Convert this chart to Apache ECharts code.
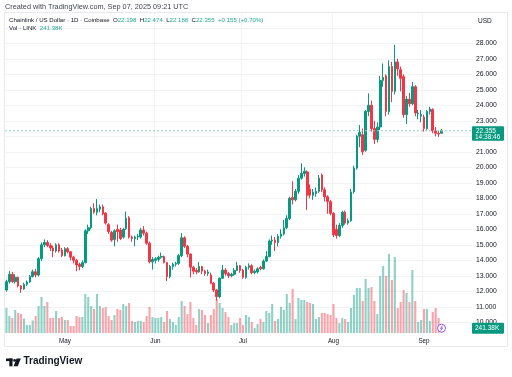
<!DOCTYPE html>
<html><head><meta charset="utf-8">
<script src="https://cdn.jsdelivr.net/npm/echarts@6/dist/echarts.min.js"></script>
<style>html,body{margin:0;padding:0;background:#fff}#c{width:512px;height:377px}</style>
</head><body><div id="c"></div>
<script>
// ---- data (LINK/USD daily, Apr 11 – Sep 7 2025) ----
const openP = [12.08,12.62,13.1,12.62,12.9,12.35,12.15,12.45,12.6,12.95,
13.26,13.05,14.1,15.0,15.15,14.95,14.8,14.6,15.0,14.66,
14.3,14.75,14.55,14.2,14.0,13.75,13.6,13.85,15.9,16.1,
17.35,17.1,17.3,17.45,17.05,16.3,15.8,15.35,16.0,15.95,
15.5,16.05,16.75,15.5,15.4,15.5,15.5,15.95,15.75,15.1,
13.9,14.0,14.05,14.2,14.25,13.85,12.95,13.6,13.75,13.8,
14.3,15.45,14.9,14.4,13.55,13.35,13.25,13.6,13.3,13.15,
13.05,12.52,12.08,11.65,12.84,13.37,13.15,13.0,13.1,13.35,
13.65,13.37,12.9,13.55,13.65,13.2,13.25,13.55,13.45,13.95,
14.24,15.25,15.3,15.15,15.55,15.7,16.1,16.7,18.05,17.9,
18.45,19.3,19.6,19.7,18.6,18.2,18.3,18.45,19.5,18.55,
18.1,17.78,17.03,16.0,15.6,16.25,17.1,16.4,16.55,18.43,
19.95,22.0,22.1,21.1,23.6,24.0,22.5,21.8,22.6,25.6,
25.9,23.6,26.5,24.9,26.8,26.3,25.85,23.4,24.4,24.1,
25.2,23.45,23.3,23.24,22.5,23.6,23.74,22.35,22.2,22.198];
const closeP = [12.62,13.1,12.62,12.9,12.35,12.15,12.45,12.6,12.95,13.26,
13.05,14.1,15.0,15.15,14.95,14.8,14.6,15.0,14.6,14.3,
14.75,14.55,14.2,14.0,13.7,13.6,13.85,15.9,16.1,17.35,
17.1,17.35,17.45,17.0,16.4,15.85,15.3,15.9,15.85,15.4,
16.0,16.7,15.5,15.4,15.5,15.55,15.95,15.75,15.1,13.9,
14.05,14.1,14.2,14.25,13.85,12.95,13.6,13.75,13.8,14.3,
15.45,14.9,14.4,13.55,13.3,13.25,13.6,13.3,13.15,13.25,
12.52,12.08,11.65,12.84,13.37,13.15,13.0,13.1,13.35,13.65,
13.35,12.9,13.55,13.65,13.2,13.3,13.45,13.45,13.95,14.24,
15.25,15.3,15.15,15.55,15.7,16.1,16.7,18.0,17.9,18.45,
19.3,19.6,19.75,18.2,18.2,18.4,18.45,19.3,18.55,18.1,
17.78,17.03,15.65,15.6,16.25,17.1,16.4,16.55,18.4,19.95,
22.0,22.25,21.0,23.6,24.0,22.5,21.8,22.6,25.6,25.8,
23.6,26.5,24.9,26.8,26.35,25.74,23.4,24.4,24.1,25.2,
23.5,23.5,23.4,22.5,23.6,23.76,22.36,22.2,22.15,22.355];
const highP = [12.75,13.3,13.25,13.1,12.95,12.4,12.55,12.7,13.05,13.4,
13.45,14.2,15.15,15.35,15.3,15.1,14.95,15.1,15.1,14.8,
14.85,14.85,14.6,14.3,14.1,13.85,14.0,16.0,16.3,17.45,
17.68,17.95,17.6,17.6,17.1,16.4,15.9,16.0,16.3,16.1,
16.1,17.14,16.85,15.6,15.6,15.7,16.1,16.2,15.85,15.2,
14.2,14.2,14.3,14.5,14.3,13.9,13.7,13.85,13.9,14.4,
15.75,15.55,15.0,14.45,13.65,13.5,13.9,13.65,13.4,13.4,
13.2,12.6,12.15,12.9,13.7,13.5,13.25,13.2,13.5,13.9,
13.7,13.45,13.65,13.8,13.75,13.4,13.55,13.65,14.05,14.6,
15.35,15.6,15.5,15.7,16.0,16.6,16.9,18.1,19.1,18.6,
19.5,20.26,20.0,19.8,18.9,18.6,18.7,19.5,19.6,18.7,
18.2,17.9,17.1,16.3,16.4,17.2,17.2,16.7,18.6,20.1,
22.1,22.73,22.5,23.7,24.77,24.3,23.0,22.9,25.9,26.7,
26.0,26.9,26.8,27.9,27.0,26.5,26.0,24.6,24.8,25.5,
25.3,23.7,23.7,23.4,23.7,23.9,23.8,22.6,22.35,22.474];
const lowP = [11.98,12.5,12.55,12.5,12.25,11.9,12.1,12.35,12.55,12.9,
12.9,12.95,13.95,14.85,14.85,14.6,14.2,14.5,14.5,14.2,
14.25,14.45,14.0,13.8,13.3,13.35,13.5,13.8,15.7,16.0,
17.0,16.9,17.1,16.9,16.3,15.7,15.2,14.9,15.2,15.3,
15.4,15.95,15.4,15.2,14.9,15.3,15.4,15.6,15.0,13.8,
13.4,13.8,13.9,14.1,13.8,12.66,12.85,13.4,13.6,13.7,
14.2,14.8,14.2,12.9,13.1,13.1,13.2,13.1,13.0,13.0,
12.45,11.95,11.4,11.55,12.8,13.0,12.85,12.9,13.0,13.3,
13.2,12.8,12.8,13.4,13.1,13.1,13.15,13.35,13.4,13.9,
14.2,15.0,14.6,14.9,15.4,15.6,16.0,16.6,17.6,17.8,
18.3,19.2,19.4,17.25,18.0,17.9,18.1,18.35,18.4,17.8,
17.0,16.9,15.5,15.4,15.5,16.1,16.3,16.3,16.5,18.3,
19.85,21.3,20.8,21.0,23.3,22.3,21.5,21.6,22.4,25.2,
23.3,23.4,24.2,24.7,25.9,24.9,23.2,22.8,23.9,24.0,
23.3,23.1,22.9,22.3,22.4,23.4,22.2,22.0,21.97,22.188];
// volume in thousands of LINK
const volumeK = [1250,850,750,1150,1000,950,725,400,400,630,
850,1350,1800,1350,1550,750,750,1100,750,800,
650,650,350,350,850,800,800,1950,1800,1350,
1200,1950,1350,1250,1300,850,650,900,1200,1150,
1450,1350,1500,600,550,600,600,550,850,1300,
800,750,750,800,550,1100,700,550,400,800,
1600,1350,950,1550,750,400,1200,1150,900,500,
900,1200,1700,1500,1250,1050,800,400,500,500,
750,400,900,800,550,250,450,700,550,1100,
1000,1450,600,700,1300,1150,1950,1500,2200,700,
1750,1650,1650,1550,1500,1450,700,800,1000,1000,
950,900,1450,750,500,750,700,550,1250,1900,
2250,2250,1600,2700,2250,2300,1600,950,2850,3350,
2850,3950,2650,3800,1250,1550,2150,2000,1550,3150,
1600,550,650,1200,1200,600,1050,1250,750,241.38];
const monthNames = ['Jan','Feb','Mar','Apr','May','Jun','Jul','Aug','Sep','Oct','Nov','Dec'];
const priceTickRange = [10, 28];
const lastPrice = 22.355;
const lastVolume = '241.38K';
const countdown = '14:38:46';

const dates = [];
const d0 = Date.UTC(2025, 3, 11);
for (let i = 0; i < closeP.length; i++) dates.push(new Date(d0 + i * 86400000).toISOString().slice(0, 10));

const UP = '#089981', DOWN = '#F23645';
const UPV = 'rgba(8,153,129,0.45)', DOWNV = 'rgba(242,54,69,0.45)';
const FONT = '"Liberation Sans", Arial, sans-serif';
const TXT = '#131722';
const GRIDC = '#f0f2f6';

const candles = dates.map((d, i) => [openP[i], closeP[i], lowP[i], highP[i]]);
const vols = volumeK.map((v, i) => ({ value: v, itemStyle: { color: closeP[i] >= openP[i] ? UPV : DOWNV } }));
const isMonthStart = idx => !!dates[idx] && dates[idx].slice(8) === '01';

const chart = echarts.init(document.getElementById('c'), null, { renderer: 'canvas' });
const option = {
  animation: false,
  backgroundColor: '#fff',
  grid: [
    { left: 5, right: 69, top: 12.3, bottom: 39.2 },
    { left: 5, right: 69, bottom: 44, height: 100 },
    { left: 5, right: 40, top: 12.3, bottom: 39.2 }
  ],
  xAxis: [
    { type: 'category', gridIndex: 0, data: dates, boundaryGap: true,
      axisLine: { show: false }, axisTick: { show: false }, axisLabel: { show: false },
      splitLine: { show: true, showMinLine: false, showMaxLine: false, interval: (i) => isMonthStart(i), lineStyle: { color: GRIDC, width: 1 } } },
    { type: 'category', gridIndex: 1, data: dates, boundaryGap: true,
      axisLine: { show: false }, axisTick: { show: false }, splitLine: { show: false },
      axisLabel: { show: true, interval: (i) => isMonthStart(i), margin: 5,
        formatter: v => monthNames[+v.slice(5, 7) - 1], fontSize: 6.3, color: TXT, fontFamily: FONT } },
    { type: 'value', gridIndex: 2, show: false, min: 0, max: 1, splitLine: { show: false } }
  ],
  yAxis: [
    { type: 'value', gridIndex: 0, min: 9, max: 30, show: false, splitLine: { show: false } },
    { type: 'value', gridIndex: 1, min: 0, max: 5000, show: false, splitLine: { show: false } },
    { type: 'value', gridIndex: 2, position: 'right', min: 9, max: 30, interval: 1,
      axisLine: { show: false }, axisTick: { show: false },
      splitLine: { show: true, showMinLine: false, showMaxLine: false, lineStyle: { color: GRIDC } },
      axisLabel: { margin: 4, align: 'left', fontSize: 6.8, color: TXT, fontFamily: FONT,
        formatter: v => (v >= priceTickRange[0] && v <= priceTickRange[1]) ? v.toFixed(3) : '' } }
  ],
  series: [
    { type: 'bar', xAxisIndex: 1, yAxisIndex: 1, data: vols, barWidth: '72%', z: 1, silent: true },
    { type: 'candlestick', xAxisIndex: 0, yAxisIndex: 0, data: candles, barWidth: '72%', z: 3,
      itemStyle: { color: UP, color0: DOWN, borderColor: UP, borderColor0: DOWN, borderWidth: 1 } }
  ]
};
chart.setOption(option);

const yPrice = chart.convertToPixel({ yAxisIndex: 0 }, lastPrice);
const yVol = chart.convertToPixel({ yAxisIndex: 1 }, volumeK[volumeK.length - 1]);
const xLast = chart.convertToPixel({ xAxisIndex: 0 }, dates[dates.length - 1]);
const boxX = 472;

chart.setOption({
  graphic: [
    { type: 'rect', shape: { x: 4.5, y: 12.5, width: 503, height: 334 }, style: { fill: 'none', stroke: '#e6e8ec', lineWidth: 1 }, silent: true, z: 0 },
    { type: 'text', left: 5, top: 3.5, style: { text: 'Created with TradingView.com, Sep 07, 2025 09:21 UTC', fontSize: 7.3, fill: '#434651', fontFamily: FONT } },
    { type: 'text', left: 9, top: 17, z: 10, style: {
        text: '{d|Chainlink / US Dollar · 1D · Coinbase  O}{g|22.198}{d|  H}{g|22.474}{d|  L}{g|22.188}{d|  C}{g|22.355}{g|  +0.155 (+0.70%)}',
        rich: { d: { fontSize: 6.1, fill: TXT, fontFamily: FONT }, g: { fontSize: 6.1, fill: '#22ab94', fontFamily: FONT } } } },
    { type: 'text', left: 9, top: 25.5, z: 10, style: {
        text: '{d|Vol · LINK  }{g|' + lastVolume + '}',
        rich: { d: { fontSize: 6.1, fill: TXT, fontFamily: FONT }, g: { fontSize: 6.1, fill: '#22ab94', fontFamily: FONT } } } },
    { type: 'text', left: 478, top: 17.5, style: { text: 'USD', fontSize: 6.5, fill: TXT, fontFamily: FONT } },
    { type: 'line', shape: { x1: 5, y1: yPrice, x2: boxX, y2: yPrice }, style: { stroke: '#8fd0c4', lineDash: [2, 2], lineWidth: 1 }, z: 5, silent: true },
    { type: 'rect', shape: { x: boxX, y: yPrice - 4.5, width: 32, height: 14.5, r: 1 }, style: { fill: UP }, z: 20 },
    { type: 'text', x: boxX + 4, y: yPrice - 3.5, z: 21, style: { text: lastPrice.toFixed(3), fontSize: 6.5, fill: '#fff', fontFamily: FONT } },
    { type: 'text', x: boxX + 3, y: yPrice + 3, z: 21, style: { text: countdown, fontSize: 6.5, fill: '#fff', fontFamily: FONT } },
    { type: 'rect', shape: { x: boxX, y: yVol - 5.5, width: 32, height: 11, r: 1 }, style: { fill: UP }, z: 20 },
    { type: 'text', x: boxX + 3, y: yVol - 3.5, z: 21, style: { text: lastVolume, fontSize: 6.5, fill: '#fff', fontFamily: FONT } },
    { type: 'circle', shape: { cx: xLast, cy: yVol, r: 4 }, style: { fill: '#fff', stroke: '#9c5bf0', lineWidth: 1 }, z: 22 },
    { type: 'polyline', shape: { points: [[xLast + 0.8, yVol - 2.5], [xLast - 1, yVol + 0.3], [xLast + 1, yVol - 0.3], [xLast - 0.8, yVol + 2.5]] }, style: { stroke: '#9c5bf0', fill: 'none', lineWidth: 1 }, z: 23 },
    { type: 'rect', shape: { x: 6, y: 358.5, width: 6.5, height: 2.6 }, style: { fill: TXT } },
    { type: 'rect', shape: { x: 9.3, y: 358.5, width: 3.2, height: 7.8 }, style: { fill: TXT } },
    { type: 'circle', shape: { cx: 14.6, cy: 360.4, r: 1.4 }, style: { fill: TXT } },
    { type: 'polygon', shape: { points: [[16.6, 358.5], [20.8, 358.5], [17.8, 366.3], [13.6, 366.3]] }, style: { fill: TXT } },
    { type: 'text', left: 23.5, top: 356.5, style: { text: 'TradingView', fontSize: 10, fontWeight: 'bold', fill: TXT, fontFamily: FONT } }
  ]
});
</script></body></html>
